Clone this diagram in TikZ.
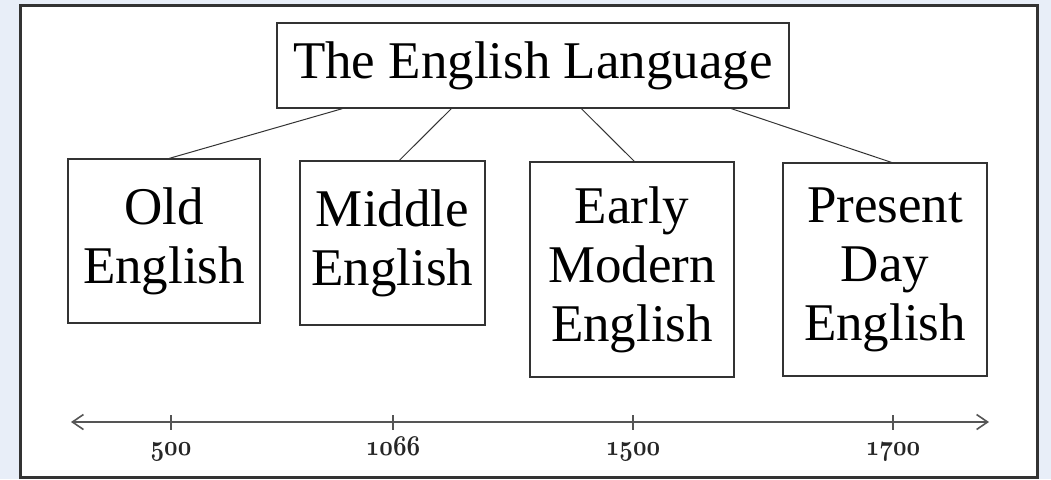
\documentclass[tikz,border=0pt]{standalone}
\usepackage{fontspec}
\setmainfont{Liberation Serif}
\usetikzlibrary{arrows.meta}
\definecolor{bg}{HTML}{E8EEF8}
\definecolor{ink}{HTML}{333333}
\definecolor{axis}{HTML}{555555}
\begin{document}
\begin{tikzpicture}[x=1pt,y=-1pt,
  box/.style={draw=ink, line width=1.3pt, inner sep=0pt, align=center,
    font=\fontsize{53}{59}\selectfont},
  link/.style={draw=ink, line width=1pt},
  tick/.style={draw=axis, line width=1.3pt},
  yr/.style={inner sep=0pt, anchor=base, text=black!85, font=\fontsize{30}{30}\selectfont\boldmath}]
\fill[bg] (0,0) rectangle (1051,479);
\useasboundingbox (0,0) rectangle (1051,479);
\draw[fill=white, draw=ink, line width=3pt] (20.5,5.5) rectangle (1037.5,477.5);

\node[box, minimum width=512pt, minimum height=85pt] (top) at (533,65.5) {The English Language};
\node[box, minimum width=192pt, minimum height=164pt] (old) at (164,241) {Old\\English};
\node[box, minimum width=185pt, minimum height=164pt] (mid) at (392.5,243) {Middle\\English};
\node[box, minimum width=204pt, minimum height=215pt] (early) at (632,269.5) {Early\\Modern\\English};
\node[box, minimum width=204pt, minimum height=213pt] (pres) at (885,269.5) {Present\\Day\\English};

\draw[link] ([xshift=66pt]top.south west) -- ([xshift=102pt]old.north west);
\draw[link] ([xshift=175pt]top.south west) -- ([xshift=100pt]mid.north west);
\draw[link] ([xshift=305pt]top.south west) -- ([xshift=105pt]early.north west);
\draw[link] ([xshift=455pt]top.south west) -- ([xshift=109pt]pres.north west);

\coordinate (tl) at (71,422);
\coordinate (tr) at (989,422);
\draw[axis, line width=2pt, {Straight Barb[length=11pt,width=15pt,line width=1.6pt]}-{Straight Barb[length=11pt,width=15pt,line width=1.6pt]}] (tl) -- (tr);

\foreach \x/\y/\n in {171/500/a, 393/1066/b, 633/1500/c, 893/1700/d}{
  \draw[tick] (\x,415) -- (\x,430);
  \node[yr] (y\n) at (\x,455) {\scalebox{0.95}[1.15]{$\mathnormal{\y}$}};
}
\end{tikzpicture}
\end{document}
